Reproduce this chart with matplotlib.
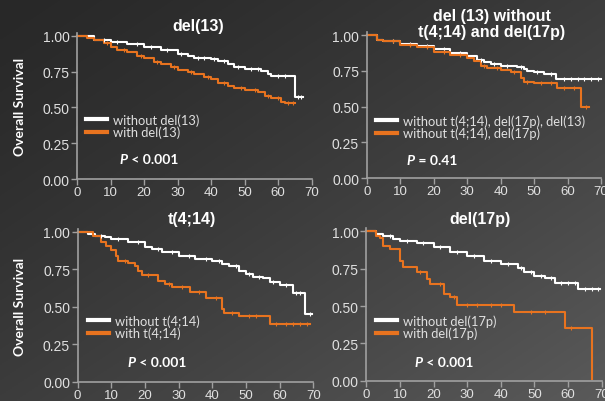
import numpy as np
import matplotlib
matplotlib.use("Agg")
import matplotlib.pyplot as plt

# ---------------- data ----------------
titles = ["del(13)", "del (13) without\nt(4;14) and del(17p)", "t(4;14)", "del(17p)"]
labels_white = ["without del(13)", "without t(4;14), del(17p), del(13)",
                "without t(4;14)", "without del(17p)"]
labels_orange = ["with del(13)", "without t(4;14), del(17p)",
                 "with t(4;14)", "with del(17p)"]
p_values = ["< 0.001", "= 0.41", "< 0.001", "< 0.001"]

# panel 1: del(13)
p1_white_t = [0, 5, 10, 15, 20, 25, 30, 33, 35, 40, 42, 45, 47, 50, 55, 57, 58, 65, 67.5]
p1_white_s = [1.0, 0.97, 0.958, 0.945, 0.923, 0.90, 0.872, 0.855, 0.844, 0.837, 0.825,
              0.80, 0.785, 0.767, 0.756, 0.733, 0.716, 0.574, 0.574]
p1_orange_t = [0, 3, 5, 8, 10, 12, 15, 18, 20, 23, 25, 28, 30, 33, 35, 38, 40, 42, 45,
               47, 50, 54, 56, 58, 61, 62, 65]
p1_orange_s = [1.0, 0.985, 0.97, 0.946, 0.923, 0.90, 0.884, 0.86, 0.842, 0.814, 0.80,
               0.78, 0.76, 0.745, 0.733, 0.709, 0.70, 0.67, 0.651, 0.633, 0.62, 0.609,
               0.581, 0.563, 0.54, 0.528, 0.528]
# panel 2: del(13) without t(4;14) and del(17p)
p2_white_t = [0, 3, 5, 10, 15, 20, 25, 30, 33, 35, 37, 40, 45, 47, 48, 50, 53, 56.5, 70]
p2_white_s = [1.0, 0.967, 0.956, 0.935, 0.92, 0.902, 0.872, 0.851, 0.826, 0.81, 0.798,
              0.786, 0.774, 0.763, 0.751, 0.74, 0.728, 0.693, 0.693]
p2_orange_t = [0, 3, 5, 10, 15, 20, 25, 30, 32, 34, 36, 40, 43, 46, 47, 50, 57, 64, 66.5]
p2_orange_s = [1.0, 0.965, 0.955, 0.93, 0.914, 0.884, 0.86, 0.837, 0.816, 0.786, 0.77,
               0.758, 0.74, 0.698, 0.67, 0.663, 0.63, 0.495, 0.495]
# panel 3: t(4;14)
p3_white_t = [0, 3, 5, 8, 10, 15, 20, 22, 25, 30, 35, 40, 43, 45, 48, 50, 52, 55, 57,
              60, 64, 67.5, 69.5]
p3_white_s = [1.0, 0.982, 0.973, 0.962, 0.951, 0.933, 0.90, 0.884, 0.867, 0.84, 0.818,
              0.802, 0.784, 0.769, 0.74, 0.718, 0.696, 0.689, 0.667, 0.644, 0.591,
              0.451, 0.451]
p3_orange_t = [0, 4.6, 7, 8.5, 10, 11.5, 12, 15, 17, 18, 19, 24, 26, 28, 33.5, 38, 43,
               43.5, 48, 57, 69]
p3_orange_s = [1.0, 0.973, 0.933, 0.907, 0.88, 0.84, 0.807, 0.791, 0.773, 0.74, 0.711,
               0.673, 0.651, 0.633, 0.60, 0.556, 0.484, 0.458, 0.44, 0.384, 0.384]
# panel 4: del(17p)
p4_white_t = [0, 3, 5, 8, 10, 15, 20, 25, 30, 35, 40, 45, 47, 50, 53, 56, 63, 69.5]
p4_white_s = [1.0, 0.98, 0.971, 0.949, 0.935, 0.92, 0.893, 0.86, 0.837, 0.804, 0.78,
              0.752, 0.73, 0.699, 0.685, 0.654, 0.614, 0.614]
p4_orange_t = [0, 3, 4, 5, 7, 10, 11, 15, 18, 19, 23, 25, 27, 44, 59, 67, 67]
p4_orange_s = [1.0, 0.971, 0.953, 0.904, 0.882, 0.804, 0.759, 0.73, 0.681, 0.647, 0.58,
               0.558, 0.507, 0.462, 0.35, 0.01, 0.01]

# censoring times (tick marks)
p1_white_c = [8, 12, 18, 22, 27, 31, 36, 38, 41, 44, 48, 52, 54, 60, 62, 66, 67]
p1_orange_c = [9, 14, 19, 24, 29, 34, 39, 44, 49, 53, 57, 60, 63, 64.5]
p2_white_c = [8, 13, 18, 23, 28, 34, 38, 42, 46, 51, 55, 59, 61, 63, 65, 67, 69]
p2_orange_c = [8, 13, 18, 23, 28, 35, 39, 44, 48, 52, 55, 59, 62, 65.5]
p3_white_c = [7, 12, 18, 24, 28, 33, 38, 42, 47, 51, 54, 58, 62, 65, 66, 69]
p3_orange_c = [14, 21, 27, 31, 36, 41, 46, 51, 53, 59, 62, 64, 66, 68]
p4_white_c = [7, 12, 17, 22, 27, 32, 37, 42, 46, 49, 52, 55, 58, 60, 62, 65, 67, 69]
p4_orange_c = [16, 22, 26, 30, 33, 37, 40, 49, 53, 61]

white_t = [p1_white_t, p2_white_t, p3_white_t, p4_white_t]
white_s = [p1_white_s, p2_white_s, p3_white_s, p4_white_s]
orange_t = [p1_orange_t, p2_orange_t, p3_orange_t, p4_orange_t]
orange_s = [p1_orange_s, p2_orange_s, p3_orange_s, p4_orange_s]
white_c = [p1_white_c, p2_white_c, p3_white_c, p4_white_c]
orange_c = [p1_orange_c, p2_orange_c, p3_orange_c, p4_orange_c]

x_ticks = [0, 10, 20, 30, 40, 50, 60, 70]
y_ticks = [0.0, 0.25, 0.5, 0.75, 1.0]

# ---------------- style ----------------
WHITE = "#ffffff"
ORANGE = "#e8731f"
SPINE = "#a0a0a0"
TICKTXT = "#e0e0e0"

fig = plt.figure(figsize=(6.05, 4.02), dpi=100)

# gradient background
bg = fig.add_axes([0, 0, 1, 1], zorder=-10)
u = np.linspace(0, 1, 300)[None, :]
w = np.linspace(0, 1, 200)[:, None]
val = (40 + 50 * ((u + w) / 2) ** 1.3) / 255.0
img = np.dstack([val, val, val])
bg.imshow(img, aspect="auto", extent=[0, 1, 0, 1], origin="upper")
bg.axis("off")

YTOP = 1.02
positions = [
    [0.1273, 0.5522, 0.3876, 0.3565 * YTOP],
    [0.6061, 0.5540, 0.3873, 0.3564 * YTOP],
    [0.1284, 0.0480, 0.3894, 0.3731 * YTOP],
    [0.6055, 0.0505, 0.3890, 0.3716 * YTOP],
]
leg_anchor = [(2.7, 0.46), (2.8, 0.448), (3.1, 0.45), (2.9, 0.446)]
p_pos = [(12.8, 0.14), (12.0, 0.13), (14.9, 0.13), (14.4, 0.123)]
title_pos = [(0.327, 0.933), (0.813, 0.939), (0.317, 0.453), (0.793, 0.453)]

def step_value(t, s, x):
    idx = np.searchsorted(np.asarray(t), np.asarray(x), side="right") - 1
    return np.asarray(s)[idx]

for i in range(4):
    ax = fig.add_axes(positions[i])
    ax.patch.set_alpha(0)
    ax.set_xlim(0, 70)
    ax.set_ylim(0, YTOP)
    for sp in ["top", "right"]:
        ax.spines[sp].set_visible(False)
    for sp in ["left", "bottom"]:
        ax.spines[sp].set_color(SPINE)
        ax.spines[sp].set_linewidth(1.2)
        ax.spines[sp].set_clip_on(False)
    ax.set_xticks(x_ticks)
    ax.set_yticks(y_ticks)
    ax.set_yticklabels(["%.2f" % v for v in y_ticks])
    ax.tick_params(colors=SPINE, labelcolor=TICKTXT, length=4, width=1,
                   labelsize=10, pad=1.5)
    ax.tick_params(axis="x", labelsize=9.5, pad=1)
    for lab in ax.get_xticklabels() + ax.get_yticklabels():
        lab.set_fontfamily("Liberation Sans")

    ax.step(white_t[i], white_s[i], where="post", color=WHITE, lw=1.5,
            clip_on=False)
    ax.step(orange_t[i], orange_s[i], where="post", color=ORANGE, lw=1.5,
            clip_on=False)
    ax.plot(white_c[i], step_value(white_t[i], white_s[i], white_c[i]),
            ls="none", marker="|", ms=3, mew=0.8, color=WHITE, clip_on=False)
    ax.plot(orange_c[i], step_value(orange_t[i], orange_s[i], orange_c[i]),
            ls="none", marker="|", ms=3, mew=0.8, color=ORANGE, clip_on=False)

    h1 = plt.Line2D([], [], color=WHITE, lw=3)
    h2 = plt.Line2D([], [], color=ORANGE, lw=3)
    leg = ax.legend([h1, h2], [labels_white[i], labels_orange[i]],
                    loc="upper left", bbox_to_anchor=leg_anchor[i],
                    bbox_transform=ax.transData, frameon=False,
                    borderpad=0, borderaxespad=0, handlelength=1.6,
                    handletextpad=0.45, labelspacing=0.0,
                    prop={"family": "Lato", "size": 9.3})
    for txt in leg.get_texts():
        txt.set_color(TICKTXT)

    tp = ax.text(p_pos[i][0], p_pos[i][1], "P", color=WHITE, fontsize=10,
                 fontweight="bold", fontstyle="italic", family="Lato",
                 ha="left", va="center")
    ax.annotate(" " + p_values[i], xy=(1, 0), xycoords=tp, color=WHITE,
                fontsize=10, fontweight="bold", family="Lato",
                ha="left", va="bottom")

    fig.text(title_pos[i][0], title_pos[i][1], titles[i], color=WHITE,
             fontsize=11.5, fontweight="bold", family="Liberation Sans",
             ha="center", va="center", linespacing=1.15)

for yc in [0.733, 0.237]:
    fig.text(0.033, yc, "Overall Survival", color=WHITE, fontsize=10,
             fontweight="bold", family="Lato", rotation=90,
             ha="center", va="center")

fig.savefig("out.png", dpi=100)
